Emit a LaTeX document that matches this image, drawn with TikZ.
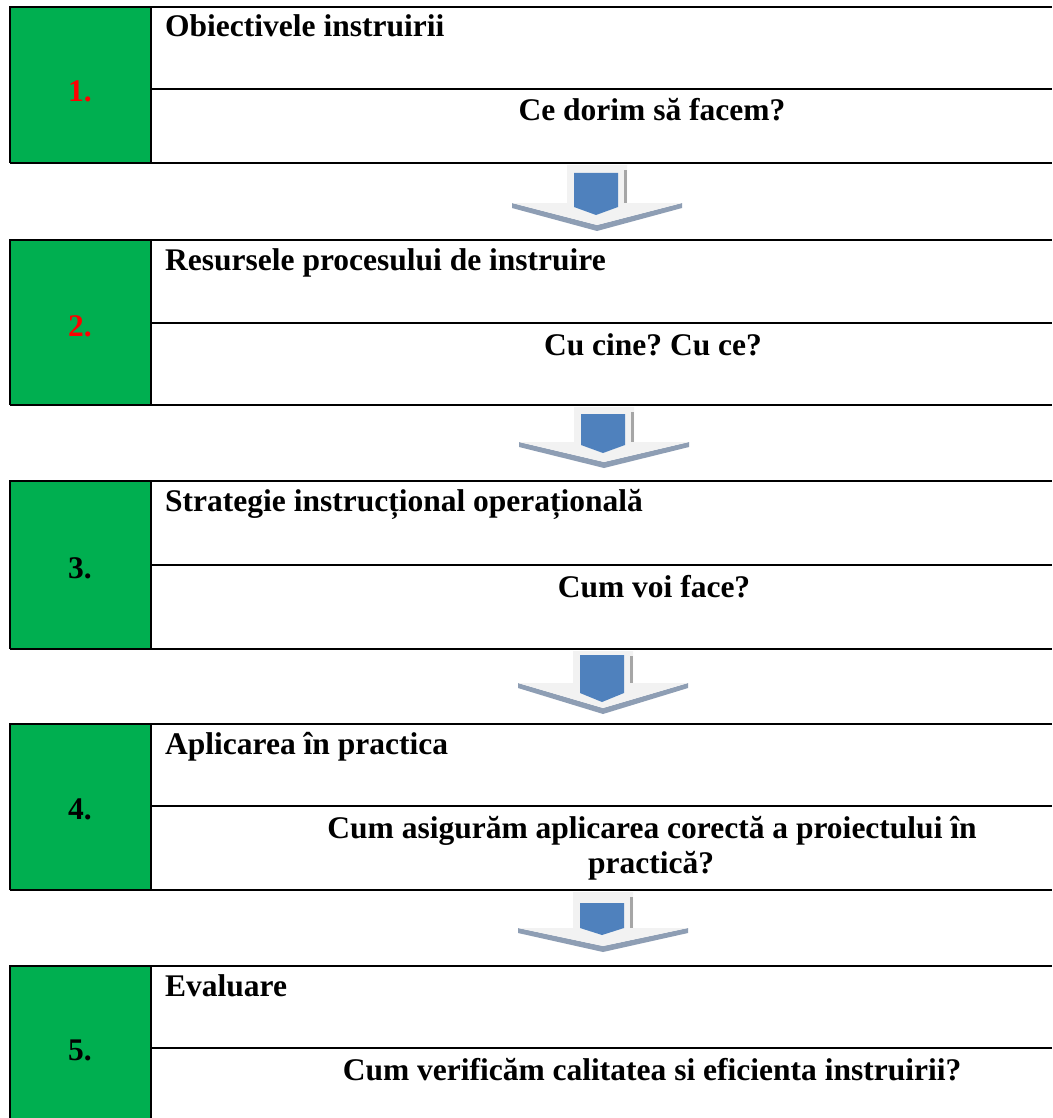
\documentclass[tikz,border=0pt]{standalone}
\usepackage{fontspec}
\setmainfont{Liberation Serif}
\frenchspacing
\definecolor{grn}{HTML}{00AF50}
\definecolor{arrlight}{HTML}{F2F2F2}
\definecolor{arrshadow}{HTML}{8E9EB4}
\definecolor{arrblue}{HTML}{4F81BD}
\definecolor{arrstripe}{HTML}{A6A6A6}
\newcommand\flowblock[4]{% top, mid, bottom, name
  \fill[grn] (10,#1) rectangle (151,#3);
  \draw[tline] (10,#3) -- (10,#1) -- (1052,#1);
  \draw[tline] (151,#1) -- (151,#3);
  \draw[tline] (151,#2) -- (1052,#2);
  \draw[tline] (10,#3) -- (1052,#3);
  \coordinate (#4-top) at (10,#1);
  \coordinate (#4-mid) at (151,#2);
}
\newcommand\flowarrow[8]{% cx, top, headY, tipY, blueTop, blueBot, blueTip, name
  \fill[arrshadow] (#1-85,#3) -- (#1,#4) -- (#1+85,#3) -- (#1+85,#3+5) -- (#1,#4+6) -- (#1-85,#3+5) -- cycle;
  \fill[arrlight] (#1-30,#2) -- (#1+30,#2) -- (#1+30,#3) -- (#1+85,#3) -- (#1,#4) -- (#1-85,#3) -- (#1-30,#3) -- cycle;
  \fill[arrstripe] (#1+27,#2+5) rectangle (#1+30,#3);
  \fill[arrblue] (#1-23,#5) -- (#1+21,#5) -- (#1+21,#6) -- (#1-1,#7) -- (#1-23,#6) -- cycle;
  \coordinate (#8) at (#1,#4);
}
\begin{document}
\begin{tikzpicture}[x=1pt,y=-1pt,
  tline/.style={line width=2.4pt,black},
  title/.style={anchor=base west,inner sep=0pt,font=\fontsize{31.5}{36}\selectfont\bfseries},
  ques/.style={anchor=base,inner sep=0pt,font=\fontsize{31.5}{36}\selectfont\bfseries},
  num/.style={anchor=base,inner sep=0pt,font=\fontsize{31.5}{36}\selectfont\bfseries}]
\useasboundingbox (0,0) rectangle (1052,1118);
\fill[white] (0,0) rectangle (1052,1118);

\flowblock{7}{89}{163}{b1}
\flowblock{240}{323}{405}{b2}
\flowblock{481}{565}{649}{b3}
\flowblock{724}{806}{890}{b4}
\flowblock{966}{1048}{1135}{b5}

\flowarrow{597}{165}{203}{225}{173}{207}{215}{a1}
\flowarrow{604}{407}{442}{462}{414}{445}{453}{a2}
\flowarrow{603}{651}{683}{708}{655}{693}{702}{a3}
\flowarrow{603}{892}{928}{946}{903}{928}{935}{a4}

\node[num,text=red] (n1) at (80,102) {1.};
\node[num,text=red] (n2) at (80,336) {2.};
\node[num] (n3) at (80,578) {3.};
\node[num] (n4) at (80,819) {4.};
\node[num] (n5) at (80,1060) {5.};

\node[title] (t1) at (165,37) {Obiectivele instruirii};
\node[title] (t2) at (165,270) {Resursele procesului de instruire};
\node[title] (t3) at (165,511) {Strategie instrucțional operațională};
\node[title] (t4) at (165,754) {Aplicarea în practica};
\node[title] (t5) at (165,996) {Evaluare};

\node[ques] (q1) at (652,121) {Ce dorim să facem?};
\node[ques] (q2) at (653,355) {Cu cine? Cu ce?};
\node[ques] (q3) at (654,597) {Cum voi face?};
\node[ques] (q4a) at (652,838) {Cum asigurăm aplicarea corectă a proiectului în};
\node[ques] (q4b) at (651,873) {practică?};
\node[ques] (q5) at (652,1080) {Cum verificăm calitatea si eficienta instruirii?};
\end{tikzpicture}
\end{document}
